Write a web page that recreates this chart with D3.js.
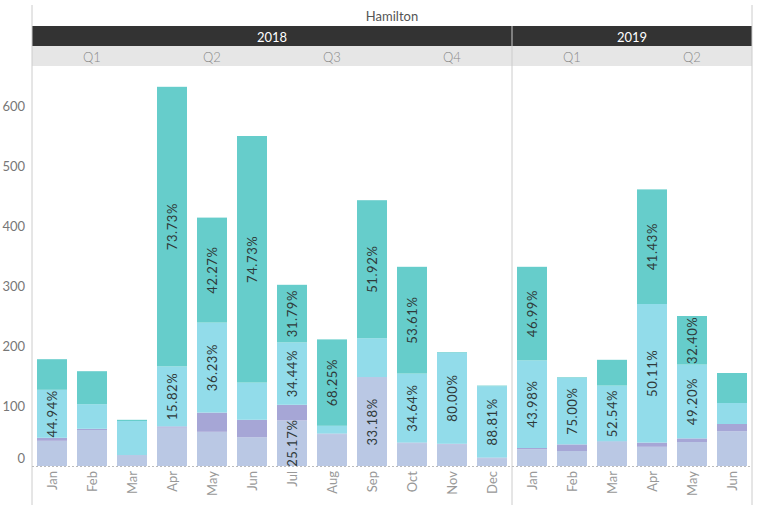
<!DOCTYPE html>
<html><head><meta charset="utf-8">
<script src="https://cdn.jsdelivr.net/npm/d3@7"></script>
<style>body{margin:0;background:#fff;} svg{display:block;font-family:Lato,"Open Sans",sans-serif;}</style>
</head><body><svg id="c" width="757" height="509"></svg>
<script>
const title = "Hamilton";
const years = ["2018", "2019"];
const months2018 = ["Jan","Feb","Mar","Apr","May","Jun","Jul","Aug","Sep","Oct","Nov","Dec"];
const months2019 = ["Jan","Feb","Mar","Apr","May","Jun"];
const quarters2018 = ["Q1","Q2","Q3","Q4"];
const quarters2019 = ["Q1","Q2"];
const seriesNames = ["s1","s2","s3","s4"]; // bottom to top
const seriesColors = ["#bac8e4","#a6a6d6","#92dcea","#66cdcb"];
// values per bar (2018 Jan..Dec, then 2019 Jan..Jun)
const s1 = [42,60,17,64,57,48,76,53,147,38,36,13, 28,25,40,32,40,58];
const s2 = [5,2,1,2,32,29,26,1,1,1,1,1, 2,11,1,7,6,12];
const s3 = [80,41,57,100,150,62,104,13,65,115,152,119, 146,111,93,231,123,35];
const s4 = [51,55,2,466,175,411,96,144,230,178,1,1, 156,1,43,191,81,50];
// which segment percent labels are displayed
const show1 = [0,0,0,0,0,0,1,0,1,0,0,0, 0,0,0,0,0,0];
const show2 = [0,0,0,0,0,0,0,0,0,0,0,0, 0,0,0,0,0,0];
const show3 = [1,0,0,1,1,0,1,0,0,1,1,1, 1,1,1,1,1,0];
const show4 = [0,0,0,1,1,1,1,1,1,1,0,0, 1,0,0,1,1,0];
const yTicks = [0,100,200,300,400,500,600];

(function(){
const svg = d3.select("#c");
const pL = 32, pS = 512, pR = 752;
const yTop = 106, yBase = 466;
const y = d3.scaleLinear().domain([0,600]).range([yBase, yTop]);

const rows = [];
months2018.forEach((m,i)=>rows.push({year:"2018", month:m, idx:i}));
months2019.forEach((m,i)=>rows.push({year:"2019", month:m, idx:12+i}));
const vals = [s1,s2,s3,s4], shows=[show1,show2,show3,show4];
rows.forEach(r=>{ seriesNames.forEach((s,k)=>{ r[s]=vals[k][r.idx]; }); r.total = seriesNames.reduce((a,s)=>a+r[s],0); });

const x18 = d3.scaleBand().domain(months2018).range([pL, pS]).paddingInner(0.25).paddingOuter(0.125);
const x19 = d3.scaleBand().domain(months2019).range([pS, pR]).paddingInner(0.25).paddingOuter(0.125);
const xs = {"2018":x18, "2019":x19};

// headers
svg.append("text").attr("x",(pL+pR)/2).attr("y",16).attr("text-anchor","middle").attr("dominant-baseline","central")
  .attr("fill","#555").attr("font-size",13).text(title);
const yearRanges = {"2018":[pL,pS],"2019":[pS,pR]};
years.forEach(yr=>{
  const [a,b]=yearRanges[yr];
  svg.append("rect").attr("x",a).attr("y",26).attr("width",b-a).attr("height",20).attr("fill","#333");
  svg.append("rect").attr("x",a).attr("y",46).attr("width",b-a).attr("height",20).attr("fill","#e6e6e6");
  svg.append("text").attr("x",(a+b)/2).attr("y",36.5).attr("text-anchor","middle").attr("dominant-baseline","central")
    .attr("fill","#fff").attr("font-size",13).text(yr);
});
const qs = {"2018":quarters2018, "2019":quarters2019};
years.forEach(yr=>{
  const xsc = xs[yr], ms = xsc.domain();
  qs[yr].forEach((q,qi)=>{
    const m0 = ms[qi*3], m2 = ms[qi*3+2];
    const cx = (xsc(m0) + xsc(m2)+xsc.bandwidth())/2;
    svg.append("text").attr("x",cx).attr("y",56.5).attr("text-anchor","middle").attr("dominant-baseline","central")
      .attr("fill","#8a8a8a").attr("font-size",13).attr("font-weight",300).text(q);
  });
});

// borders
svg.append("line").attr("x1",pL).attr("x2",pL).attr("y1",5).attr("y2",505).attr("stroke","#ccc");
svg.append("line").attr("x1",pR).attr("x2",pR).attr("y1",5).attr("y2",505).attr("stroke","#ccc");
svg.append("line").attr("x1",pS).attr("x2",pS).attr("y1",26).attr("y2",505).attr("stroke","#ccc");

// y axis labels
const yAxis = d3.axisLeft(y).tickValues(yTicks).tickSize(0).tickPadding(7);
const ga = svg.append("g").attr("transform",`translate(${pL},0)`).call(yAxis);
ga.select(".domain").remove();
ga.selectAll("text").attr("fill","#777").attr("font-size",13).attr("font-family","Lato,sans-serif")
  .attr("dy", d=> d===0 ? "-0.3em" : "0.32em");

// stacks
const stack = d3.stack().keys(seriesNames);
const stacked = stack(rows);
const g = svg.append("g");
stacked.forEach((layer,k)=>{
  g.selectAll(null).data(layer).join("rect")
    .attr("x", d=>xs[d.data.year](d.data.month))
    .attr("width", d=>xs[d.data.year].bandwidth())
    .attr("y", d=>y(d[1]))
    .attr("height", d=>y(d[0])-y(d[1]))
    .attr("fill", seriesColors[k]);
});
// labels
stacked.forEach((layer,k)=>{
  layer.forEach(d=>{
    if(!shows[k][d.data.idx]) return;
    const cx = xs[d.data.year](d.data.month)+xs[d.data.year].bandwidth()/2;
    const cy = (y(d[0])+y(d[1]))/2;
    const pct = (d.data[seriesNames[k]]/d.data.total*100).toFixed(2)+"%";
    g.append("text").attr("transform",`translate(${cx},${cy}) rotate(-90)`)
      .attr("text-anchor","middle").attr("dominant-baseline","central")
      .attr("fill","#2f3a3a").attr("font-size",13).attr("letter-spacing","0.6px").text(pct);
  });
});

// baseline
svg.append("line").attr("x1",pL).attr("x2",pR).attr("y1",yBase+0.5).attr("y2",yBase+0.5)
  .attr("stroke","#bbb").attr("stroke-dasharray","2,2");

// x labels
rows.forEach(r=>{
  const xsc = xs[r.year];
  const cx = xsc(r.month)+xsc.bandwidth()/2;
  svg.append("text").attr("transform",`translate(${cx},471) rotate(-90)`)
    .attr("text-anchor","end").attr("dominant-baseline","central")
    .attr("fill","#999").attr("font-size",13).text(r.month);
});
})();
</script></body></html>
